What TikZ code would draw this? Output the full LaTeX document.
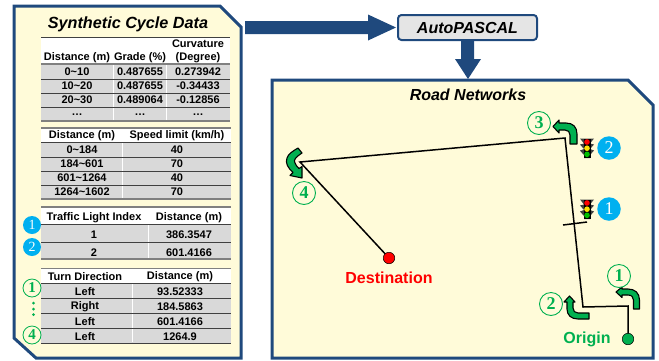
\documentclass[tikz,border=0pt]{standalone}
\usepackage{fontspec}
\setmainfont{Liberation Sans}
\newfontfamily\serifnum{Liberation Serif}
\definecolor{navy}{HTML}{1F497D}
\definecolor{panel}{HTML}{FFFBD9}
\definecolor{rowgray}{HTML}{D9D9D9}
\definecolor{ruledark}{HTML}{404040}
\definecolor{cyanb}{HTML}{00B0F0}
\definecolor{greenb}{HTML}{00B050}
\tikzset{
  x=1pt,y=-1pt,
  panelbox/.style={draw=navy,fill=panel,line width=3pt,line join=miter},
  bigarrow/.style={fill=navy,draw=none},
  cell/.style={font=\bfseries\fontsize{11}{12.5}\selectfont,text=black,inner sep=0pt,anchor=center},
  rowfill/.style={fill=rowgray,draw=none},
  headfill/.style={fill=white,draw=none},
  rule/.style={draw=ruledark,line width=1pt},
  thickrule/.style={draw=gray,line width=1.6pt},
  bluebadge/.style={circle,fill=cyanb,text=white,inner sep=0pt,minimum size=18pt,font=\serifnum\fontsize{14}{14}\selectfont},
  greenbadge/.style={circle,draw=greenb,fill=panel,text=greenb,line width=0.9pt,inner sep=0pt,minimum size=23pt,font=\serifnum\bfseries\fontsize{18}{18}\selectfont},
  tablegreen/.style={circle,draw=greenb,fill=panel,text=greenb,line width=0.8pt,inner sep=0pt,minimum size=18pt,font=\serifnum\bfseries\fontsize{15}{15}\selectfont},
  roadline/.style={draw=black,line width=1.5pt,line join=miter},
  turnarrow/.style={draw=black,fill=greenb,line width=1.1pt,line join=round},
}
\newcommand{\tlight}[2]{%
  \begin{scope}[shift={(#1,#2)}]
    \fill[black!75] (-7,-9.5) -- (7,-9.5) -- (3,-4.5) -- (7,-3.5) -- (3,1) -- (7,2.5) -- (3,7) -- (3,10) -- (-3,10) -- (-3,7) -- (-7,2.5) -- (-3,1) -- (-7,-3.5) -- (-3,-4.5) -- cycle;
    \fill[black] (-3.5,-9.5) rectangle (3.5,10);
    \fill[red] (0,-6) circle (2.8);
    \fill[yellow!85!orange] (0,0.2) circle (2.8);
    \fill[green!75!black] (0,6.3) circle (2.8);
  \end{scope}}
\begin{document}
\begin{tikzpicture}
\useasboundingbox (0,0) rectangle (659,360);
% left panel
\coordinate (lp) at (14,6);
\draw[panelbox] (lp) -- (220,6) -- (241,27) -- (241,358) -- (36,358) -- (14,338) -- cycle;
\node[font=\bfseries\itshape\fontsize{16.2}{18}\selectfont,inner sep=0pt] (title) at (128,24) {Synthetic Cycle Data};
% table 1
\fill[headfill] (41,37) rectangle (230,64);
\fill[rowfill] (41,64) rectangle (230,121);
\draw[white,line width=.7pt] (113,65) -- (113,120) (166,65) -- (166,120);
\draw[rule] (41,37) -- (230,37);
\draw[thickrule] (41,64) -- (230,64);
\draw[rule] (41,79) -- (230,79);
\draw[rule] (41,93) -- (230,93);
\draw[rule] (41,107) -- (230,107);
\draw[thickrule] (41,121) -- (230,121);
\node[cell] (h11) at (77,57.5) {Distance (m)};
\node[cell] (h12) at (140,57.5) {Grade (\%)};
\node[cell] (h13a) at (198,44) {Curvature};
\node[cell] (h13b) at (198,57.5) {(Degree)};
\foreach \y/\a/\b/\c in {72/0\textasciitilde10/0.487655/0.273942,86/10\textasciitilde20/0.487655/-0.34433,100/20\textasciitilde30/0.489064/-0.12856,115/…/…/…}{
  \node[cell] at (77,\y) {\a};
  \node[cell] at (140,\y) {\b};
  \node[cell] at (198,\y) {\c};
}
% table 2
\fill[headfill] (41,128) rectangle (231,142);
\fill[rowfill] (41,142) rectangle (231,199);
\draw[white,line width=.7pt] (122,143) -- (122,198);
\draw[thickrule] (41,128) -- (231,128);
\draw[rule] (41,142) -- (231,142);
\draw[rule] (41,157) -- (231,157);
\draw[rule] (41,171) -- (231,171);
\draw[rule] (41,185) -- (231,185);
\draw[thickrule] (41,199) -- (231,199);
\node[cell] at (82,135.5) {Distance (m)};
\node[cell] at (177,135.5) {Speed limit (km/h)};
\foreach \y/\a/\b in {150/0\textasciitilde184/40,164/184\textasciitilde601/70,178/601\textasciitilde1264/40,192/1264\textasciitilde1602/70}{
  \node[cell] at (82,\y) {\a};
  \node[cell] at (177,\y) {\b};
}
% table 3
\fill[headfill] (41,207) rectangle (231,224);
\fill[rowfill] (41,224) rectangle (231,259);
\draw[white,line width=.7pt] (148,225) -- (148,258);
\draw[thickrule] (41,207) -- (231,207);
\draw[rule] (41,224) -- (231,224);
\draw[rule] (41,242) -- (231,242);
\draw[thickrule] (41,259) -- (231,259);
\node[cell] at (94,218) {Traffic Light Index};
\node[cell] at (189,218) {Distance (m)};
\node[cell] at (94,235) {1};
\node[cell] at (189,235) {386.3547};
\node[cell] at (94,252.5) {2};
\node[cell] at (189,252.5) {601.4166};
\node[bluebadge] (tb1) at (32,225) {1};
\node[bluebadge] (tb2) at (32,247) {2};
% table 4
\fill[headfill] (41,268) rectangle (231,283);
\fill[rowfill] (41,283) rectangle (231,343);
\draw[white,line width=.7pt] (132,284) -- (132,342);
\draw[thickrule] (41,268.5) -- (231,268.5);
\draw[rule] (41,283) -- (231,283);
\draw[rule] (41,298) -- (231,298);
\draw[rule] (41,313) -- (231,313);
\draw[rule] (41,328) -- (231,328);
\draw[rule] (41,343) -- (231,343);
\node[cell] at (85,277) {Turn Direction};
\node[cell] at (180,277) {Distance (m)};
\foreach \y/\a/\b in {292/Left/93.52333,307/Right/184.5863,322/Left/601.4166,337/Left/1264.9}{
  \node[cell] at (85,\y) {\a};
  \node[cell] at (180,\y) {\b};
}
\node[tablegreen] (tg1) at (32,288) {1};
\node[tablegreen] (tg4) at (32,335) {4};
\fill[greenb] (33.5,303) circle (1.5) (33.5,309) circle (1.5) (33.5,314.5) circle (1.5);
% road panel
\draw[panelbox] (272,80) -- (628,80) -- (653,105) -- (653,358) -- (272,358) -- cycle;
\node[font=\bfseries\itshape\fontsize{16}{18}\selectfont,inner sep=0pt] (rn) at (468,95) {Road Networks};
% AutoPASCAL
\node[draw=navy,fill=gray!20,line width=2pt,rounded corners=3.5pt,minimum width=139pt,minimum height=25pt,inner sep=0pt,font=\bfseries\itshape\fontsize{16}{18}\selectfont] (auto) at (467.5,27.5) {AutoPASCAL};
% big arrows
\fill[bigarrow] (245,21) -- (368,21) -- (368,14.5) -- (396,27.5) -- (368,40.5) -- (368,34) -- (245,34) -- cycle;
\fill[bigarrow] (461,40) -- (474,40) -- (474,59) -- (481,59) -- (468,79) -- (455,59) -- (461,59) -- cycle;
% road
\coordinate (origin) at (628,339);
\coordinate (destn) at (389,258);
\draw[roadline] (origin) -- (628,306) -- (583,307) -- (565,138) -- (300,162) -- (destn);
\coordinate (ticka) at (563,225);
\coordinate (tickb) at (587,222);
\draw[roadline] (ticka) -- (tickb);
\node[circle,fill=greenb,draw=black,line width=.5pt,minimum size=11.5pt,inner sep=0pt] (onode) at (origin) {};
\node[circle,fill=red,draw=black,line width=.5pt,minimum size=11.5pt,inner sep=0pt] (dnode) at (destn) {};
\node[font=\bfseries\fontsize{16}{18}\selectfont,text=greenb,inner sep=0pt] (ol) at (587,339.5) {Origin};
\node[font=\bfseries\fontsize{16}{18}\selectfont,text=red,inner sep=0pt] (dl) at (389,278) {Destination};
% turn arrows
\draw[turnarrow] (633.5,309) -- (633.5,300) .. controls (633.5,297) and (631.5,295) .. (628,295) -- (622,295) -- (622,297.5) -- (616,292) -- (622,287) -- (622,289) -- (628,289) .. controls (635,289) and (639.5,293) .. (639.5,300) -- (639.5,309) -- cycle;
\draw[turnarrow] (589,319) -- (578,319) .. controls (571,319) and (567,315) .. (567,309) -- (567,302) -- (564,302) -- (569.5,296) -- (575,302) -- (573,302) -- (573,308) .. controls (573,311) and (575,313) .. (578,313) -- (589,313) -- cycle;
\draw[turnarrow] (570,144) -- (570,135) .. controls (570,132) and (568,130) .. (565,130) -- (559,130) -- (559,133) -- (553,126.5) -- (559,120) -- (559,123) -- (566,123) .. controls (573,123) and (577,127) .. (577,134) -- (577,144) -- cycle;
\draw[turnarrow] (298,148) -- (302,153) .. controls (296,157) and (293,160) .. (295,163) .. controls (296,165) and (297,167) .. (299,168.5) -- (302,166.5) -- (302,178) -- (290,175.5) -- (293,172.5) .. controls (288,168) and (285,163) .. (287,158) .. controls (288,154) and (293,151) .. (298,148) -- cycle;
% badges
\node[greenbadge] (g1) at (619,276) {1};
\node[greenbadge] (g2) at (551,304) {2};
\node[greenbadge] (g3) at (539,123) {3};
\node[greenbadge] (g4) at (304,193) {4};
\tlight{587}{148}
\tlight{587}{209}
\node[bluebadge,minimum size=23.5pt,font=\serifnum\fontsize{18}{18}\selectfont] (b2) at (609,148) {2};
\node[bluebadge,minimum size=23.5pt,font=\serifnum\fontsize{18}{18}\selectfont] (b1) at (609,209) {1};
\end{tikzpicture}
\end{document}
